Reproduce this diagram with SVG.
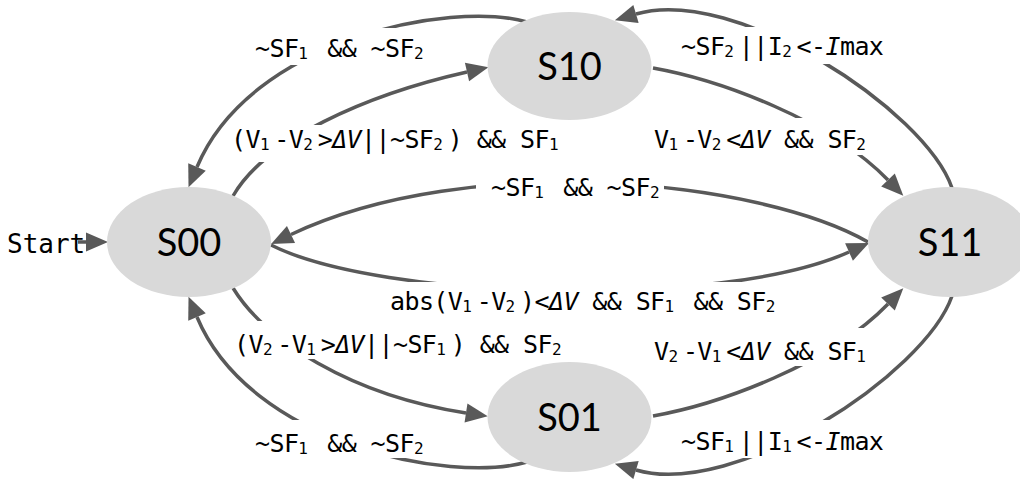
<svg xmlns="http://www.w3.org/2000/svg" width="1020" height="479" viewBox="0 0 1020 479">
  <style>
    .state { fill: #d9d9d9; stroke: none; }
    .state-label { font-family: Lato, "Liberation Sans", Arial, sans-serif; font-size: 38px; fill: #000; text-anchor: middle; }
    .edge { fill: none; stroke: #595959; stroke-width: 3.5; marker-end: url(#arrow); }
    .guard-bg { fill: #fff; stroke: none; }
    .guard { font-family: "DejaVu Sans Mono", "Liberation Mono", monospace; font-size: 25px; letter-spacing: -0.6px; fill: #000; }
    .sub { font-size: 16px; letter-spacing: 4.8px; baseline-shift: -2px; }
    .start { font-family: "DejaVu Sans Mono", "Liberation Mono", monospace; font-size: 26px; fill: #000; }
    .it { font-style: italic; }
  </style>
  <defs>
    <marker id="arrow" markerUnits="userSpaceOnUse" markerWidth="22" markerHeight="19" refX="0" refY="9.5" orient="auto" overflow="visible">
      <path d="M0,0 L22,9.5 L0,19 Z" fill="#595959"/>
    </marker>
  </defs>

  <rect width="1020" height="479" fill="#fff"/>

  <!-- transitions -->
  <g id="connectors">
    <path class="edge" d="M78,242 L86,242"/>
    <!-- S10 -> S00 -->
    <path class="edge" d="M527,22 C450,0 250,40 197,167"/>
    <!-- S00 -> S10 -->
    <path class="edge" d="M233,196 C265,140 365,95 467,72"/>
    <!-- S10 -> S11 -->
    <path class="edge" d="M653,68 C720,80 830,120 888,180"/>
    <!-- S11 -> S10 -->
    <path class="edge" d="M952,188 C925,110 735,-15 636,14"/>
    <!-- S11 -> S00 -->
    <path class="edge" d="M868,242 C760,180 470,150 291,234.5"/>
    <!-- S00 -> S11 -->
    <path class="edge" d="M271,245 C380,300 720,310 849,252"/>
    <!-- S00 -> S01 -->
    <path class="edge" d="M233,288 C265,340 350,395 466,413"/>
    <!-- S01 -> S00 -->
    <path class="edge" d="M527,462 C450,484 250,444 197,317"/>
    <!-- S11 -> S01 -->
    <path class="edge" d="M952,296 C925,374 735,499 636,470"/>
    <!-- S01 -> S11 -->
    <path class="edge" d="M653,416 C720,404 830,364 888,304"/>

    <!-- guard labels with white backing -->
    <rect class="guard-bg" x="250" y="28" width="184" height="37"/>
    <rect class="guard-bg" x="228" y="125" width="340" height="37"/>
    <rect class="guard-bg" x="650" y="118" width="224" height="37"/>
    <rect class="guard-bg" x="678" y="27" width="210" height="37"/>
    <rect class="guard-bg" x="476" y="177" width="188" height="30"/>
    <rect class="guard-bg" x="386" y="282" width="400" height="36"/>
    <rect class="guard-bg" x="231" y="321" width="340" height="38"/>
    <rect class="guard-bg" x="250" y="420" width="184" height="38"/>
    <rect class="guard-bg" x="678" y="420" width="210" height="38"/>
    <rect class="guard-bg" x="651" y="328" width="223" height="38"/>

    <text class="start" x="7" y="253">Start</text>
    <text class="guard" x="255" y="57">~SF<tspan class="sub">1</tspan> &amp;&amp; ~SF<tspan class="sub">2</tspan></text>
    <text class="guard" x="231" y="148">(V<tspan class="sub">1</tspan>-V<tspan class="sub">2</tspan>&gt;<tspan class="it">ΔV</tspan>||~SF<tspan class="sub">2</tspan>) &amp;&amp; SF<tspan class="sub">1</tspan></text>
    <text class="guard" x="654" y="148">V<tspan class="sub">1</tspan>-V<tspan class="sub">2</tspan>&lt;<tspan class="it">ΔV</tspan> &amp;&amp; SF<tspan class="sub">2</tspan></text>
    <text class="guard" x="681" y="55">~SF<tspan class="sub">2</tspan>||I<tspan class="sub">2</tspan>&lt;-<tspan class="it">I</tspan>max</text>
    <text class="guard" x="491" y="196">~SF<tspan class="sub">1</tspan> &amp;&amp; ~SF<tspan class="sub">2</tspan></text>
    <text class="guard" x="390" y="310">abs(V<tspan class="sub">1</tspan>-V<tspan class="sub">2</tspan>)&lt;<tspan class="it">ΔV</tspan> &amp;&amp; SF<tspan class="sub">1</tspan> &amp;&amp; SF<tspan class="sub">2</tspan></text>
    <text class="guard" x="234" y="353">(V<tspan class="sub">2</tspan>-V<tspan class="sub">1</tspan>&gt;<tspan class="it">ΔV</tspan>||~SF<tspan class="sub">1</tspan>) &amp;&amp; SF<tspan class="sub">2</tspan></text>
    <text class="guard" x="654" y="360">V<tspan class="sub">2</tspan>-V<tspan class="sub">1</tspan>&lt;<tspan class="it">ΔV</tspan> &amp;&amp; SF<tspan class="sub">1</tspan></text>
    <text class="guard" x="255" y="452">~SF<tspan class="sub">1</tspan> &amp;&amp; ~SF<tspan class="sub">2</tspan></text>
    <text class="guard" x="681" y="450">~SF<tspan class="sub">1</tspan>||I<tspan class="sub">1</tspan>&lt;-<tspan class="it">I</tspan>max</text>
  </g>

  <!-- states -->
  <g id="s00">
    <ellipse class="state" cx="189" cy="242" rx="82" ry="55"/>
    <text class="state-label" x="189" y="256">S00</text>
  </g>
  <g id="s10">
    <ellipse class="state" cx="569.5" cy="66" rx="82" ry="54"/>
    <text class="state-label" x="569.5" y="80">S10</text>
  </g>
  <g id="s11">
    <ellipse class="state" cx="950" cy="242" rx="82" ry="55"/>
    <text class="state-label" x="950" y="256">S11</text>
  </g>
  <g id="s01">
    <ellipse class="state" cx="569.5" cy="417" rx="82" ry="55"/>
    <text class="state-label" x="569.5" y="431">S01</text>
  </g>
</svg>
